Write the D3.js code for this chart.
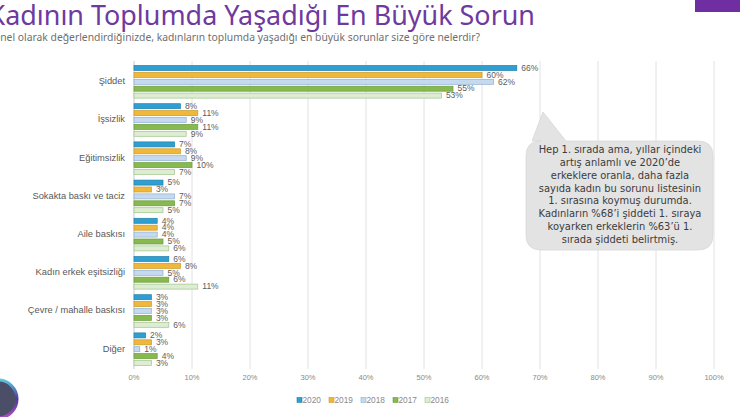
<!DOCTYPE html>
<html><head><meta charset="utf-8">
<script src="https://cdn.jsdelivr.net/npm/d3@7"></script>
<style>body{margin:0;background:#fff;overflow:hidden}svg{display:block}</style>
</head><body>
<svg id="c" width="740" height="417"></svg>
<script>
const categories = ["Şiddet","İşsizlik","Eğitimsizlik","Sokakta baskı ve taciz","Aile baskısı","Kadın erkek eşitsizliği","Çevre / mahalle baskısı","Diğer"];
const years = ["2020","2019","2018","2017","2016"];
const v2020 = [66,8,7,5,4,6,3,2];
const v2019 = [60,11,8,3,4,8,3,3];
const v2018 = [62,9,9,7,4,5,3,1];
const v2017 = [55,11,10,7,5,6,3,4];
const v2016 = [53,9,7,5,6,11,6,3];
const xTicks = [0,10,20,30,40,50,60,70,80,90,100];
const title = "Kadının Toplumda Yaşadığı En Büyük Sorun";
const subtitle = "Genel olarak değerlendirdiğinizde, kadınların toplumda yaşadığı en büyük sorunlar size göre nelerdir?";
const note = ["Hep 1. sırada ama, yıllar içindeki","artış anlamlı ve 2020’de","erkeklere oranla, daha fazla","sayıda kadın bu sorunu listesinin","1. sırasına koymuş durumda.","Kadınların %68’i şiddeti 1. sıraya","koyarken erkeklerin %63’ü 1.","sırada şiddeti belirtmiş."];

const seriesVals = [v2020,v2019,v2018,v2017,v2016];
const fills = ["#2E9FD0","#F0B83A","#C6DAEF","#86B94F","#DDECD3"];
const strokes = ["#2380AC","#C99A2A","#8FAED3","#6D9C3C","#9EC68C"];

const svg = d3.select("#c");
const x = d3.scaleLinear().domain([0,100]).range([134,714]);
const y0 = d3.scaleBand().domain(categories).range([62.7,368.3]).padding(0);
const y1 = d3.scaleBand().domain(years).range([0,y0.bandwidth()]).paddingInner(0.275).paddingOuter(0.405);

// gridlines
svg.append("g").selectAll("line").data(xTicks).join("line")
  .attr("x1",d=>x(d)).attr("x2",d=>x(d)).attr("y1",61).attr("y2",369)
  .attr("stroke",d=>d===0?"#c8c8c8":"#e2e2e2").attr("stroke-width",1);

// tick labels
svg.append("g").selectAll("text").data(xTicks).join("text")
  .attr("x",d=>x(d)).attr("y",378).attr("text-anchor","middle").attr("dominant-baseline","middle")
  .attr("font-family","Liberation Sans, Arial, sans-serif").attr("font-size",7.5).attr("fill","#8a8a8a")
  .text(d=>d+"%");

// bars
const groups = svg.append("g").selectAll("g").data(categories).join("g")
  .attr("transform",d=>`translate(0,${y0(d)})`);
years.forEach((yr,si)=>{
  groups.append("rect")
    .attr("x",x(0)).attr("y",y1(yr)).attr("height",y1.bandwidth())
    .attr("width",(d,i)=>x(seriesVals[si][i])-x(0))
    .attr("fill",fills[si]).attr("stroke",strokes[si]).attr("stroke-width",0.7);
  groups.append("text")
    .attr("x",(d,i)=>x(seriesVals[si][i])+4.5).attr("y",y1(yr)+y1.bandwidth()/2+0.5)
    .attr("dominant-baseline","middle")
    .attr("font-family","Liberation Sans, Arial, sans-serif").attr("font-size",8.5).attr("fill","#5d5d5d")
    .text((d,i)=>seriesVals[si][i]+"%");
});

// category labels
svg.append("g").selectAll("text").data(categories).join("text")
  .attr("x",125).attr("y",d=>y0(d)+y0.bandwidth()/2).attr("text-anchor","end").attr("dominant-baseline","middle")
  .attr("font-family","Liberation Sans, Arial, sans-serif").attr("font-size",9.3).attr("fill","#595959")
  .text(d=>d);

// legend
const lg = svg.append("g").attr("transform","translate(297,400)");
years.forEach((yr,i)=>{
  const g = lg.append("g").attr("transform",`translate(${i*32},0)`);
  g.append("rect").attr("x",0).attr("y",-2.5).attr("width",5).attr("height",5)
    .attr("fill",fills[i]).attr("stroke",strokes[i]).attr("stroke-width",0.6);
  g.append("text").attr("x",5.5).attr("y",0.3).attr("dominant-baseline","middle")
    .attr("font-family","Liberation Sans, Arial, sans-serif").attr("font-size",8.3).attr("fill","#8a8a8a").text(yr);
});

// annotation callout
const bx0=526, bx1=713, by0=141, by1=250, r=15;
const path = `M${bx0+r},${by0} L${bx0+6},${by0} L543,112 L566,${by0} L${bx1-r},${by0} Q${bx1},${by0} ${bx1},${by0+r} L${bx1},${by1-r} Q${bx1},${by1} ${bx1-r},${by1} L${bx0+r},${by1} Q${bx0},${by1} ${bx0},${by1-r} L${bx0},${by0+r} Q${bx0},${by0} ${bx0+r},${by0} Z`;
svg.append("path").attr("d",path).attr("fill","#e3e3e3").attr("stroke","#d8d8d8").attr("stroke-width",0.8);
const noteT = svg.append("g").selectAll("text").data(note).join("text")
  .attr("x",620).attr("y",(d,i)=>150+i*12.86).attr("text-anchor","middle").attr("dominant-baseline","middle")
  .attr("font-family","DejaVu Sans, Verdana, sans-serif").attr("font-size",9).attr("fill","#3b3b3b")
  .text(d=>d);
{
  const w = noteT.nodes()[0].getComputedTextLength();
  noteT.attr("font-size",9*163/w);
}

// title
const t = svg.append("text").attr("x",535).attr("y",24.5).attr("text-anchor","end")
  .attr("font-family","Noto Sans, Open Sans, sans-serif").attr("font-size",25).attr("fill","#6E3A9E").text(title);
{
  const full = t.node().getComputedTextLength();
  const vis = full - t.node().getSubStringLength(0,1);
  t.attr("font-size",25*530/vis);
}
const st = svg.append("text").attr("x",480).attr("y",40.5).attr("text-anchor","end")
  .attr("font-family","Noto Sans, Open Sans, sans-serif").attr("font-size",10).attr("fill","#6f6f6f").text(subtitle);
{
  const full = st.node().getComputedTextLength();
  const vis = full - st.node().getSubStringLength(0,2);
  st.attr("font-size",10*480/vis);
}

// decorative purple block
svg.append("rect").attr("x",695).attr("y",0).attr("width",45).attr("height",12).attr("fill","#6F2FA3");

// logo (partial)
const defs = svg.append("defs");
const gr = defs.append("linearGradient").attr("id","lg1").attr("x1","0").attr("y1","0").attr("x2","0").attr("y2","1");
gr.append("stop").attr("offset","0").attr("stop-color","#5ec6e0");
gr.append("stop").attr("offset","0.5").attr("stop-color","#4b3c9a");
gr.append("stop").attr("offset","1").attr("stop-color","#b04fc0");
svg.append("circle").attr("cx",-2).attr("cy",399).attr("r",19).attr("fill","#4a4e66").attr("stroke","url(#lg1)").attr("stroke-width",3);
</script>
</body></html>
